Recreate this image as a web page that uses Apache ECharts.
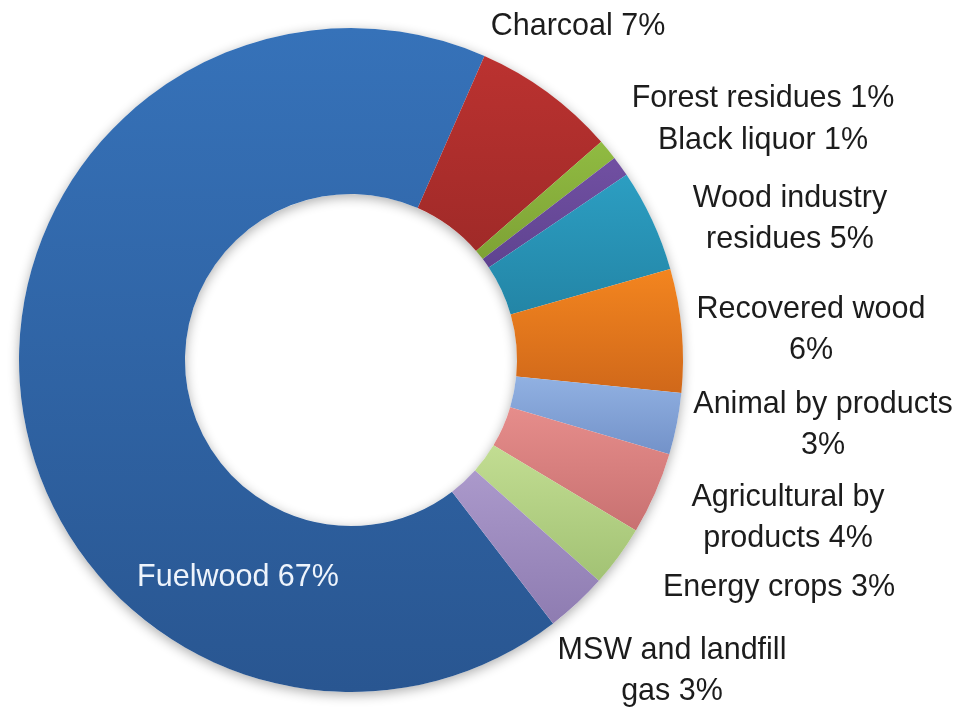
<!DOCTYPE html>
<html>
<head>
<meta charset="utf-8">
<title>Bioenergy sources</title>
<script src="https://cdn.jsdelivr.net/npm/echarts@6/dist/echarts.min.js"></script>
<style>
  html, body { margin: 0; padding: 0; background: #ffffff; }
  #chart { width: 961px; height: 709px; }
</style>
</head>
<body>
<div id="chart"></div>
<script>
// Share of each biomass source, in percent
const categories = [
  'Fuelwood', 'Charcoal', 'Forest residues', 'Black liquor',
  'Wood industry residues', 'Recovered wood', 'Animal by products',
  'Agricultural by products', 'Energy crops', 'MSW and landfill gas'
];
const shares = [67, 7, 1, 1, 5, 6, 3, 4, 3, 3];

// How each label is split over lines ('\n' at the end puts the value on its own line)
const labelLines = [
  'Fuelwood', 'Charcoal', 'Forest residues', 'Black liquor',
  'Wood industry\nresidues', 'Recovered wood\n', 'Animal by products\n',
  'Agricultural by\nproducts', 'Energy crops', 'MSW and landfill\ngas'
];

// Slice fills: lighter at the top, darker at the bottom
const fillTop = ['#3672b9', '#bb3230', '#90bb42', '#7150a2', '#2c9ec2',
                 '#f3851f', '#91b1e2', '#e68d8b', '#c2dd92', '#ab99cb'];
const fillBottom = ['#295691', '#a02a28', '#7ea235', '#5f4390', '#2385a6',
                    '#d0681a', '#7392c9', '#c87171', '#a2c274', '#8e7cb1'];

// Label block centres in pixels
const labelAt = [
  [238, 578], [578, 27], [763, 99], [763, 141], [790, 219],
  [811, 330], [823, 425], [788, 518], [779, 588], [672, 671]
];

const CENTER = [351, 360];
const RADIUS = [166, 332];

const chart = echarts.init(document.getElementById('chart'), null, { renderer: 'canvas' });

const pieData = categories.map((name, i) => ({
  name: name,
  value: shares[i],
  itemStyle: {
    color: new echarts.graphic.LinearGradient(0, 0, 0, 1, [
      { offset: 0, color: fillTop[i] },
      { offset: 1, color: fillBottom[i] }
    ])
  },
  label: i === 0 ? { color: '#eef4fc' } : {}
}));

chart.setOption({
  backgroundColor: '#ffffff',
  animation: false,
  series: [
    {
      // soft drop shadow under the ring
      type: 'pie',
      silent: true,
      center: CENTER,
      radius: RADIUS,
      label: { show: false },
      labelLine: { show: false },
      itemStyle: {
        color: '#ffffff',
        shadowBlur: 12,
        shadowOffsetY: 3,
        shadowColor: 'rgba(0,0,0,0.32)'
      },
      data: [{ value: 1 }]
    },
    {
      type: 'pie',
      center: CENTER,
      radius: RADIUS,
      startAngle: -52.5,
      clockwise: true,
      avoidLabelOverlap: false,
      itemStyle: { borderWidth: 0 },
      label: {
        show: true,
        position: 'outside',
        fontFamily: '"Liberation Sans", Arial, sans-serif',
        fontSize: 30.5,
        lineHeight: 41,
        color: '#1c1c1c',
        align: 'center',
        formatter: (p) => {
          const t = labelLines[p.dataIndex];
          return t + (t.endsWith('\n') ? '' : ' ') + p.value + '%';
        }
      },
      labelLine: { show: false },
      labelLayout: (params) => {
        const p = labelAt[params.dataIndex];
        return { x: p[0], y: p[1], align: 'center', verticalAlign: 'middle' };
      },
      data: pieData
    }
  ]
});
</script>
</body>
</html>
